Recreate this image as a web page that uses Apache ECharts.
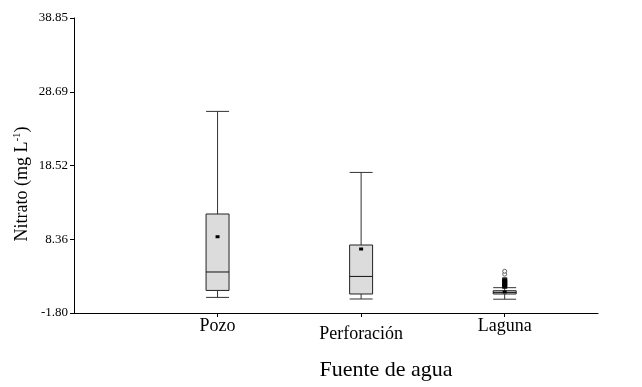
<!DOCTYPE html>
<html>
<head>
<meta charset="utf-8">
<script src="https://cdn.jsdelivr.net/npm/echarts@6/dist/echarts.min.js"></script>
<style>html,body{margin:0;padding:0;background:#fff}#c{width:642px;height:387px}</style>
</head>
<body>
<div id="c"></div>
<script>
// ---- data ----
var categories = ['Pozo', 'Perforación', 'Laguna'];
// [lower whisker, Q1, median, Q3, upper whisker, mean]
var pozo        = [0.35, 1.31, 3.85, 11.84, 25.98, 8.71];
var perforacion = [0.13, 0.82, 3.24, 7.57, 17.57, 7.02];
var laguna      = [0.10, 0.82, 1.04, 1.27, 1.69, 1.10];
var lagunaOutliersFilled = [1.80, 1.95, 2.10, 2.25, 2.40, 2.55, 2.70, 2.85];
var lagunaOutliersOpen = [3.55, 3.95];
var yTickLabels = ['-1.80', '8.36', '18.52', '28.69', '38.85'];
var yMin = -1.80, yMax = 38.85;

var OFF = -yMin; // shift so the axis starts at 0
var serif = 'Liberation Serif, Times New Roman, serif';

var boxes = [pozo, perforacion, laguna].map(function (b, i) {
  return [i + 1].concat(b);
});

var filled = lagunaOutliersFilled.map(function (v) { return [3, v + OFF]; });
var open = lagunaOutliersOpen.map(function (v) { return [3, v + OFF]; });

function renderBox(params, api) {
  var x = api.value(0);
  var lo = api.value(1) + OFF, q1 = api.value(2) + OFF, med = api.value(3) + OFF,
      q3 = api.value(4) + OFF, hi = api.value(5) + OFF, mean = api.value(6) + OFF;
  var hw = api.size([0.16, 0])[0] / 2;
  var pLo = api.coord([x, lo]), pQ1 = api.coord([x, q1]), pMed = api.coord([x, med]),
      pQ3 = api.coord([x, q3]), pHi = api.coord([x, hi]), pMean = api.coord([x, mean]);
  var cx = pLo[0];
  var ls = { stroke: '#333', lineWidth: 1, fill: null };
  var kids = [
    { type: 'line', shape: { x1: cx, y1: pHi[1], x2: cx, y2: pQ3[1] }, style: ls },
    { type: 'line', shape: { x1: cx, y1: pQ1[1], x2: cx, y2: pLo[1] }, style: ls },
    { type: 'line', shape: { x1: cx - hw, y1: pHi[1], x2: cx + hw, y2: pHi[1] }, style: ls },
    { type: 'line', shape: { x1: cx - hw, y1: pLo[1], x2: cx + hw, y2: pLo[1] }, style: ls },
    { type: 'rect', shape: { x: cx - hw, y: pQ3[1], width: 2 * hw, height: pQ1[1] - pQ3[1] },
      style: { fill: '#dcdcdc', stroke: '#222', lineWidth: 1 } },
    { type: 'line', shape: { x1: cx - hw, y1: pMed[1], x2: cx + hw, y2: pMed[1] }, style: { stroke: '#111', lineWidth: 1 } },
    { type: 'rect', shape: { x: cx - 2, y: pMean[1] - 1.5, width: 4, height: 3 }, style: { fill: '#000' } }
  ];
  return { type: 'group', children: kids };
}

var chart = echarts.init(document.getElementById('c'), null, { renderer: 'canvas' });
chart.setOption({
  animation: false,
  backgroundColor: '#fff',
  grid: { left: 74, top: 18, right: 44, bottom: 74 },
  xAxis: {
    type: 'value', min: 0, max: 3.65,
    splitLine: { show: false },
    axisLine: { show: true, onZero: false, lineStyle: { color: '#000', width: 1 } },
    axisTick: { show: true, customValues: [1, 2, 3], length: 4, lineStyle: { color: '#000' } },
    axisLabel: {
      customValues: [1, 2, 3], margin: 4,
      fontFamily: serif, fontSize: 18, color: '#000',
      formatter: function (v) {
        var name = categories[Math.round(v) - 1] || '';
        return Math.round(v) === 2 ? '{low|' + name + '}' : '{n|' + name + '}';
      },
      rich: {
        n: { fontFamily: serif, fontSize: 18, color: '#000' },
        low: { fontFamily: serif, fontSize: 18, color: '#000', padding: [8, 0, 0, 0] }
      }
    }
  },
  yAxis: {
    type: 'value', min: 0, max: yMax - yMin, interval: (yMax - yMin) / 4,
    splitLine: { show: false },
    axisLine: { show: true, lineStyle: { color: '#000', width: 1 } },
    axisTick: { show: true, length: 4, lineStyle: { color: '#000' } },
    axisLabel: {
      margin: 6, fontFamily: serif, fontSize: 13, color: '#000',
      formatter: function (v, i) { return yTickLabels[i]; }
    }
  },
  graphic: [
    { type: 'text', x: 22, y: 184, rotation: Math.PI / 2,
      style: { text: 'Nitrato (mg L{s|-1})', fontFamily: serif, fontSize: 18, fill: '#000',
        align: 'center', verticalAlign: 'middle',
        rich: { s: { fontFamily: serif, fontSize: 11, verticalAlign: 'top', padding: [0, 0, 9, 0] } } } },
    { type: 'text', x: 386, y: 370,
      style: { text: 'Fuente de agua', fontFamily: serif, fontSize: 22, fill: '#000',
        align: 'center', verticalAlign: 'middle' } }
  ],
  series: [
    { type: 'custom', renderItem: renderBox, data: boxes, encode: { x: 0, y: [1, 2, 3, 4, 5] }, z: 2 },
    { type: 'scatter', data: filled, symbol: 'rect', symbolSize: [5, 4], itemStyle: { color: '#000' }, z: 3 },
    { type: 'scatter', data: open, symbol: 'circle', symbolSize: 4,
      itemStyle: { color: '#fff', borderColor: '#444', borderWidth: 1 }, z: 3 }
  ]
});
</script>
</body>
</html>
